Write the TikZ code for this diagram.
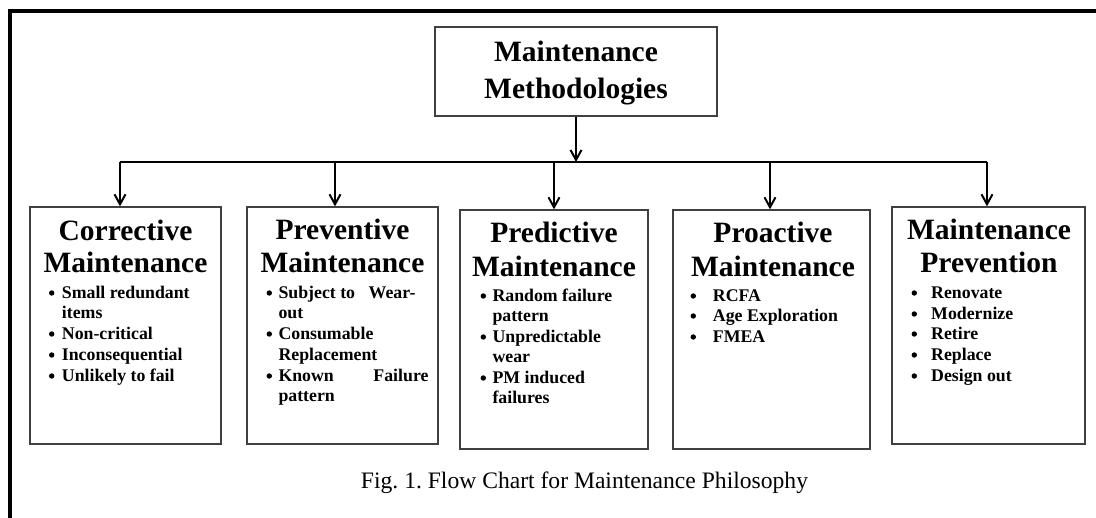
\documentclass[tikz,border=0pt]{standalone}
\usepackage{fontspec}
\setmainfont{Liberation Serif}
\usetikzlibrary{arrows.meta}
\frenchspacing

\begin{document}
\begin{tikzpicture}[x=1pt,y=-1pt,
  frameline/.style={line width=4pt},
  box/.style={draw=black!75, line width=1.3pt, fill=white, inner sep=0pt},
  heading/.style={font=\fontsize{29.5}{33}\selectfont\bfseries, inner sep=0pt, anchor=base},
  entry/.style={font=\fontsize{17.8}{21}\selectfont\bfseries, inner sep=0pt, anchor=base west},
  bul/.style={circle, fill=black, inner sep=0pt, minimum size=5.4pt},
  link/.style={line width=1.8pt},
  feed/.style={link, -{Straight Barb[length=10pt,width=11pt,line width=2pt]}},
  caption/.style={font=\fontsize{23.6}{28}\selectfont, inner sep=0pt, anchor=base}
]
\useasboundingbox (0,0) rectangle (1096,518);

% outer frame (top and left edges)
\draw[frameline] (9.5,518) -- (9.5,11) -- (1096,11);

% root box
\node[box, minimum width=282pt, minimum height=89pt] (root) at (576,71.5) {};
\node[heading] (rootA) at (576,62) {Maintenance};
\node[heading] (rootB) at (576,99) {Methodologies};

% category boxes
\node[box, minimum width=191pt, minimum height=237pt] (b1) at (125.5,325.5) {};
\node[box, minimum width=191pt, minimum height=237pt] (b2) at (342.5,325.5) {};
\node[box, minimum width=188pt, minimum height=239pt] (b3) at (554,329.5) {};
\node[box, minimum width=197pt, minimum height=239pt] (b4) at (771.5,329.5) {};
\node[box, minimum width=193pt, minimum height=237pt] (b5) at (988.5,325.5) {};

% distribution bus
\coordinate (d1) at (120,162);
\coordinate (d2) at (335,162);
\coordinate (d3) at (554,162);
\coordinate (d4) at (770,162);
\coordinate (d5) at (987,162);
\draw[link] (d1) -- (d5);
\draw[feed] (root.south) -- (root.south |- d3);
\foreach \i in {1,...,5} {
  \draw[feed] (d\i) -- (d\i |- b\i.north);
}

% Corrective Maintenance
\node[heading] (t1a) at (125.5,241) {Corrective};
\node[heading] (t1b) at (125.5,273) {Maintenance};
\foreach \y [count=\k] in {299,340,361,382} {
  \node[bul] (p1\k) at (51.7,\y-6) {};
}
\node[entry] (e11) at (61.7,299) {Small redundant};
\node[entry] (e12) at (61.7,319) {items};
\node[entry] (e13) at (61.7,340) {Non-critical};
\node[entry] (e14) at (61.7,361) {Inconsequential};
\node[entry] (e15) at (61.7,382) {Unlikely to fail};

% Preventive Maintenance
\node[heading] (t2a) at (342.5,240) {Preventive};
\node[heading] (t2b) at (342.5,273) {Maintenance};
\foreach \y [count=\k] in {299,340,382} {
  \node[bul] (p2\k) at (269.3,\y-6) {};
}
\node[entry] (e21) at (278.3,299) {\hbox to 137pt{Subject to\hfill Wear-}};
\node[entry] (e22) at (278.3,319) {out};
\node[entry] (e23) at (278.3,340) {Consumable};
\node[entry] (e24) at (278.3,361) {Replacement};
\node[entry] (e25) at (278.3,382) {\hbox to 150pt{Known\hfill Failure}};
\node[entry] (e26) at (278.3,402) {pattern};

% Predictive Maintenance
\node[heading] (t3a) at (554,243) {Predictive};
\node[heading] (t3b) at (554,277) {Maintenance};
\foreach \y [count=\k] in {302,343,384} {
  \node[bul] (p3\k) at (483.3,\y-6) {};
}
\node[entry] (e31) at (492.3,302) {Random failure};
\node[entry] (e32) at (492.3,322) {pattern};
\node[entry] (e33) at (492.3,343) {Unpredictable};
\node[entry] (e34) at (492.3,363) {wear};
\node[entry] (e35) at (492.3,384) {PM induced};
\node[entry] (e36) at (492.3,404) {failures};

% Proactive Maintenance
\node[heading] (t4a) at (773,243) {Proactive};
\node[heading] (t4b) at (773,277) {Maintenance};
\foreach \y [count=\k] in {302,322,343} {
  \node[bul] (p4\k) at (693.3,\y-6) {};
}
\node[entry] (e41) at (712.7,302) {RCFA};
\node[entry] (e42) at (712.7,322) {Age Exploration};
\node[entry] (e43) at (712.7,343) {FMEA};

% Maintenance Prevention
\node[heading] (t5a) at (989,240) {Maintenance};
\node[heading] (t5b) at (989,273) {Prevention};
\foreach \y [count=\k] in {299,320,340,361,382} {
  \node[bul] (p5\k) at (914.3,\y-6) {};
}
\node[entry] (e51) at (931,299) {Renovate};
\node[entry] (e52) at (931,320) {Modernize};
\node[entry] (e53) at (931,340) {Retire};
\node[entry] (e54) at (931,361) {Replace};
\node[entry] (e55) at (931,382) {Design out};

% figure caption
\node[caption] (cap) at (584.5,489) {Fig. 1. Flow Chart for Maintenance Philosophy};
\end{tikzpicture}
\end{document}
